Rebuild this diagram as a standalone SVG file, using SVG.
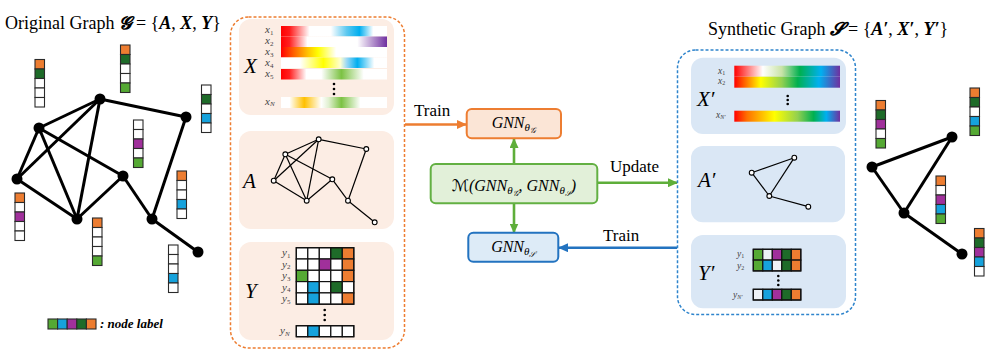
<svg xmlns="http://www.w3.org/2000/svg" width="997" height="360" viewBox="0 0 997 360">
<style>
text{font-family:"Liberation Serif","DejaVu Serif","DejaVu Sans",serif;fill:#000}
.o{fill:#ED7D31}.dg{fill:#1E6B29}.g{fill:#55A934}.b{fill:#16A2DC}.p{fill:#A0309B}.w{fill:#fff}
.bar rect{stroke:#2a2a2a;stroke-width:1.1}
.grid rect{stroke:#111;stroke-width:1.2}
.big{fill:#000}
.edge{stroke:#000;stroke-width:3;fill:none}
.sedge{stroke:#000;stroke-width:1.2;fill:none}
.snode{fill:#fff;stroke:#000;stroke-width:1.1}
.peach{fill:#FCEDE4}
.lblue{fill:#DAE7F5}
.lbl{font-size:11px;font-style:italic;fill:#444}
.lbs{font-size:9.5px;font-style:italic;fill:#444}
.big-l{font-size:21px;font-style:italic}
.dot{fill:#000}
.ttl{font-size:18px}
.arr{font-size:17px}
</style>
<defs>
<marker id="mo" markerWidth="10" markerHeight="9" refX="9" refY="4.5" orient="auto" markerUnits="userSpaceOnUse"><path d="M0,0 L10,4.5 L0,9 z" fill="#ED7D31"/></marker>
<marker id="mg" markerWidth="10" markerHeight="9" refX="9" refY="4.5" orient="auto" markerUnits="userSpaceOnUse"><path d="M0,0 L10,4.5 L0,9 z" fill="#5EAE3A"/></marker>
<marker id="mb" markerWidth="10" markerHeight="9" refX="9" refY="4.5" orient="auto" markerUnits="userSpaceOnUse"><path d="M0,0 L10,4.5 L0,9 z" fill="#2373C0"/></marker>
<linearGradient id="gx1"><stop offset="0" stop-color="#FF0000"/><stop offset="0.08" stop-color="#FF1A1A"/><stop offset="0.27" stop-color="#fff"/><stop offset="0.47" stop-color="#fff"/><stop offset="0.62" stop-color="#5CC8F0"/><stop offset="0.74" stop-color="#00AEEF"/><stop offset="0.87" stop-color="#fff"/><stop offset="1" stop-color="#fff"/></linearGradient>
<linearGradient id="gx2"><stop offset="0" stop-color="#FF0000"/><stop offset="0.08" stop-color="#FF2020"/><stop offset="0.25" stop-color="#fff"/><stop offset="0.72" stop-color="#fff"/><stop offset="1" stop-color="#7030A0"/></linearGradient>
<linearGradient id="gx3"><stop offset="0" stop-color="#FF0000"/><stop offset="0.12" stop-color="#FF6000"/><stop offset="0.25" stop-color="#FFC000"/><stop offset="0.35" stop-color="#FFFF00"/><stop offset="0.52" stop-color="#fff"/><stop offset="1" stop-color="#fff"/></linearGradient>
<linearGradient id="gx4"><stop offset="0" stop-color="#fff"/><stop offset="0.18" stop-color="#fff"/><stop offset="0.4" stop-color="#FFFF00"/><stop offset="0.56" stop-color="#FFFFD0"/><stop offset="0.62" stop-color="#9BD8F5"/><stop offset="0.72" stop-color="#00AEEF"/><stop offset="0.88" stop-color="#fff"/><stop offset="1" stop-color="#fff"/></linearGradient>
<linearGradient id="gx5"><stop offset="0" stop-color="#FF0000"/><stop offset="0.08" stop-color="#FF2020"/><stop offset="0.24" stop-color="#fff"/><stop offset="0.38" stop-color="#fff"/><stop offset="0.57" stop-color="#7CC243"/><stop offset="0.78" stop-color="#fff"/><stop offset="1" stop-color="#fff"/></linearGradient>
<linearGradient id="gx6"><stop offset="0" stop-color="#fff"/><stop offset="0.08" stop-color="#fff"/><stop offset="0.22" stop-color="#FFC000"/><stop offset="0.38" stop-color="#fff"/><stop offset="0.45" stop-color="#E0F0D0"/><stop offset="0.57" stop-color="#7CC243"/><stop offset="0.75" stop-color="#fff"/><stop offset="1" stop-color="#fff"/></linearGradient>
<linearGradient id="gp1"><stop offset="0" stop-color="#FF0000"/><stop offset="0.27" stop-color="#fff"/><stop offset="0.45" stop-color="#C9E3A6"/><stop offset="0.62" stop-color="#00B050"/><stop offset="0.82" stop-color="#00B0F0"/><stop offset="1" stop-color="#7030A0"/></linearGradient>
<linearGradient id="gp2"><stop offset="0" stop-color="#FF0000"/><stop offset="0.25" stop-color="#FFFF00"/><stop offset="0.45" stop-color="#92D050"/><stop offset="0.6" stop-color="#00B050"/><stop offset="0.8" stop-color="#00B0F0"/><stop offset="1" stop-color="#7030A0"/></linearGradient>
<linearGradient id="gp3"><stop offset="0" stop-color="#FF0000"/><stop offset="0.12" stop-color="#FF7000"/><stop offset="0.38" stop-color="#FFFF00"/><stop offset="0.6" stop-color="#92D050"/><stop offset="0.75" stop-color="#00B050"/><stop offset="0.87" stop-color="#00B0F0"/><stop offset="1" stop-color="#7030A0"/></linearGradient>
</defs>

<!-- Titles -->
<text class="ttl" x="5" y="29">Original Graph <tspan font-weight="bold" font-style="italic">𝓖</tspan><tspan dx="4">= {</tspan><tspan font-weight="bold" font-style="italic">A</tspan>, <tspan font-weight="bold" font-style="italic">X</tspan>, <tspan font-weight="bold" font-style="italic">Y</tspan>}</text>
<text class="ttl" x="708" y="35">Synthetic Graph <tspan font-weight="bold" font-style="italic">𝓢</tspan><tspan dx="4">= {</tspan><tspan font-weight="bold" font-style="italic">A′</tspan>, <tspan font-weight="bold" font-style="italic">X′</tspan>, <tspan font-weight="bold" font-style="italic">Y′</tspan>}</text>

<!-- Connectors -->
<g id="connectors">
 <g id="orig-edges" class="edge">
  <line x1="100" y1="99" x2="39" y2="128"/><line x1="100" y1="99" x2="186" y2="117"/>
  <line x1="100" y1="99" x2="17" y2="179"/><line x1="100" y1="99" x2="77" y2="219"/>
  <line x1="39" y1="128" x2="17" y2="179"/><line x1="39" y1="128" x2="77" y2="219"/>
  <line x1="39" y1="128" x2="123" y2="176"/><line x1="17" y1="179" x2="77" y2="219"/>
  <line x1="77" y1="219" x2="123" y2="176"/><line x1="123" y1="176" x2="152" y2="219"/>
  <line x1="186" y1="117" x2="152" y2="219"/><line x1="152" y1="219" x2="198" y2="252"/>
 </g>
 <g id="syn-edges" class="edge">
  <line x1="872" y1="167" x2="952" y2="137"/><line x1="952" y1="137" x2="904" y2="213"/>
  <line x1="872" y1="167" x2="904" y2="213"/><line x1="904" y1="213" x2="962" y2="254"/>
 </g>
 <line id="train-g" x1="405" y1="124.5" x2="466" y2="124.5" stroke="#ED7D31" stroke-width="2.6" marker-end="url(#mo)"/>
 <line id="m-to-g" x1="514" y1="164" x2="514" y2="139" stroke="#5EAE3A" stroke-width="2.6" marker-end="url(#mg)"/>
 <line id="m-to-s" x1="514" y1="203.5" x2="514" y2="232.5" stroke="#5EAE3A" stroke-width="2.6" marker-end="url(#mg)"/>
 <line id="update" x1="597.5" y1="182.7" x2="677" y2="182.7" stroke="#5EAE3A" stroke-width="2.6" marker-end="url(#mg)"/>
 <line id="train-s" x1="677" y1="247.7" x2="559" y2="247.7" stroke="#2373C0" stroke-width="2.6" marker-end="url(#mb)"/>
 <text class="arr" x="414" y="116">Train</text>
 <text class="arr" x="610" y="172">Update</text>
 <text class="arr" x="603" y="241">Train</text>
</g>

<!-- Original graph nodes -->
<g id="orig-nodes" class="big">
 <circle id="n1" cx="100" cy="99" r="5.5"/><circle id="n2" cx="39" cy="128" r="5.5"/>
 <circle id="n3" cx="186" cy="117" r="5.5"/><circle id="n4" cx="17" cy="179" r="5.5"/>
 <circle id="n5" cx="123" cy="176" r="5.5"/><circle id="n6" cx="77" cy="219" r="5.5"/>
 <circle id="n7" cx="152" cy="219" r="5.5"/><circle id="n8" cx="198" cy="252" r="5.5"/>
</g>
<g id="orig-labels">
 <g class="bar" transform="translate(35,59.5)"><rect class="o" y="0" width="9.5" height="9.5"/><rect class="dg" y="9.5" width="9.5" height="9.5"/><rect class="w" y="19" width="9.5" height="9.5"/><rect class="w" y="28.5" width="9.5" height="9.5"/><rect class="w" y="38" width="9.5" height="9.5"/></g>
 <g class="bar" transform="translate(120.5,45)"><rect class="o" y="0" width="9.5" height="9.5"/><rect class="dg" y="9.5" width="9.5" height="9.5"/><rect class="w" y="19" width="9.5" height="9.5"/><rect class="w" y="28.5" width="9.5" height="9.5"/><rect class="g" y="38" width="9.5" height="9.5"/></g>
 <g class="bar" transform="translate(201.5,85)"><rect class="w" y="0" width="9.5" height="9.5"/><rect class="dg" y="9.5" width="9.5" height="9.5"/><rect class="w" y="19" width="9.5" height="9.5"/><rect class="b" y="28.5" width="9.5" height="9.5"/><rect class="w" y="38" width="9.5" height="9.5"/></g>
 <g class="bar" transform="translate(133.5,120)"><rect class="w" y="0" width="9.5" height="9.5"/><rect class="w" y="9.5" width="9.5" height="9.5"/><rect class="p" y="19" width="9.5" height="9.5"/><rect class="w" y="28.5" width="9.5" height="9.5"/><rect class="g" y="38" width="9.5" height="9.5"/></g>
 <g class="bar" transform="translate(177,171)"><rect class="o" y="0" width="9.5" height="9.5"/><rect class="w" y="9.5" width="9.5" height="9.5"/><rect class="w" y="19" width="9.5" height="9.5"/><rect class="b" y="28.5" width="9.5" height="9.5"/><rect class="w" y="38" width="9.5" height="9.5"/></g>
 <g class="bar" transform="translate(15,193)"><rect class="o" y="0" width="9.5" height="9.5"/><rect class="w" y="9.5" width="9.5" height="9.5"/><rect class="p" y="19" width="9.5" height="9.5"/><rect class="w" y="28.5" width="9.5" height="9.5"/><rect class="w" y="38" width="9.5" height="9.5"/></g>
 <g class="bar" transform="translate(92.5,218)"><rect class="o" y="0" width="9.5" height="9.5"/><rect class="w" y="9.5" width="9.5" height="9.5"/><rect class="w" y="19" width="9.5" height="9.5"/><rect class="w" y="28.5" width="9.5" height="9.5"/><rect class="g" y="38" width="9.5" height="9.5"/></g>
 <g class="bar" transform="translate(168.5,245)"><rect class="w" y="0" width="9.5" height="9.5"/><rect class="w" y="9.5" width="9.5" height="9.5"/><rect class="w" y="19" width="9.5" height="9.5"/><rect class="b" y="28.5" width="9.5" height="9.5"/><rect class="w" y="38" width="9.5" height="9.5"/></g>
</g>
<g id="legend">
 <g class="bar"><rect class="g" x="48" y="319" width="9.6" height="10"/><rect class="b" x="57.6" y="319" width="9.6" height="10"/><rect class="p" x="67.2" y="319" width="9.6" height="10"/><rect class="dg" x="76.8" y="319" width="9.6" height="10"/><rect class="o" x="86.4" y="319" width="9.6" height="10"/></g>
 <text x="100" y="328" font-size="13" font-weight="bold" font-style="italic">: node label</text>
</g>

<!-- Original graph data panel -->
<g id="orig-panel">
 <rect x="230.5" y="17" width="174" height="331" rx="18" fill="none" stroke="#ED7D31" stroke-width="1.5" stroke-dasharray="3 2"/>
 <g id="panel-X">
  <rect class="peach" x="239" y="19" width="155" height="96" rx="12"/>
  <text class="big-l" x="244" y="73">X</text>
  <text class="lbl" x="265" y="33">x<tspan font-size="7" font-style="normal" dy="1.5">1</tspan></text>
  <text class="lbl" x="265" y="44">x<tspan font-size="7" font-style="normal" dy="1.5">2</tspan></text>
  <text class="lbl" x="265" y="55">x<tspan font-size="7" font-style="normal" dy="1.5">3</tspan></text>
  <text class="lbl" x="265" y="66">x<tspan font-size="7" font-style="normal" dy="1.5">4</tspan></text>
  <text class="lbl" x="265" y="77">x<tspan font-size="7" font-style="normal" dy="1.5">5</tspan></text>
  <text class="lbl" x="265" y="104.5">x<tspan font-size="7" dy="1.5">N</tspan></text>
  <rect x="281" y="26" width="106" height="10.5" fill="url(#gx1)"/>
  <rect x="281" y="36.5" width="106" height="10.5" fill="url(#gx2)"/>
  <rect x="281" y="47" width="106" height="10.5" fill="url(#gx3)"/>
  <rect x="281" y="57.5" width="106" height="10.5" fill="url(#gx4)"/>
  <rect x="281" y="69" width="106" height="10.5" fill="url(#gx5)"/>
  <rect x="281" y="97" width="106" height="11" fill="url(#gx6)"/>
  <circle class="dot" cx="334" cy="84" r="1.3"/><circle class="dot" cx="334" cy="89" r="1.3"/><circle class="dot" cx="334" cy="94" r="1.3"/>
 </g>
 <g id="panel-A">
  <rect class="peach" x="239" y="131" width="155" height="98" rx="12"/>
  <text class="big-l" x="243" y="188">A</text>
  <g class="sedge">
   <line x1="318.7" y1="139.3" x2="285.3" y2="154.3"/><line x1="318.7" y1="139.3" x2="366.3" y2="149"/>
   <line x1="318.7" y1="139.3" x2="273.7" y2="180.7"/><line x1="318.7" y1="139.3" x2="306.7" y2="200.7"/>
   <line x1="285.3" y1="154.3" x2="273.7" y2="180.7"/><line x1="285.3" y1="154.3" x2="306.7" y2="200.7"/>
   <line x1="285.3" y1="154.3" x2="332.3" y2="179.3"/><line x1="273.7" y1="180.7" x2="306.7" y2="200.7"/>
   <line x1="306.7" y1="200.7" x2="332.3" y2="179.3"/><line x1="332.3" y1="179.3" x2="348" y2="200.7"/>
   <line x1="366.3" y1="149" x2="348" y2="200.7"/><line x1="348" y1="200.7" x2="374.7" y2="222.3"/>
  </g>
  <g class="snode">
   <circle cx="318.7" cy="139.3" r="2.4"/><circle cx="285.3" cy="154.3" r="2.4"/><circle cx="366.3" cy="149" r="2.4"/>
   <circle cx="273.7" cy="180.7" r="2.4"/><circle cx="332.3" cy="179.3" r="2.4"/><circle cx="306.7" cy="200.7" r="2.4"/>
   <circle cx="348" cy="200.7" r="2.4"/><circle cx="374.7" cy="222.3" r="2.4"/>
  </g>
 </g>
 <g id="panel-Y">
  <rect class="peach" x="239" y="242" width="155" height="98" rx="12"/>
  <text class="big-l" x="245" y="298">Y</text>
  <text class="lbl" x="282" y="256">y<tspan font-size="7" font-style="normal" dy="1.5">1</tspan></text>
  <text class="lbl" x="282" y="267.5">y<tspan font-size="7" font-style="normal" dy="1.5">2</tspan></text>
  <text class="lbl" x="282" y="279">y<tspan font-size="7" font-style="normal" dy="1.5">3</tspan></text>
  <text class="lbl" x="282" y="290.5">y<tspan font-size="7" font-style="normal" dy="1.5">4</tspan></text>
  <text class="lbl" x="282" y="302">y<tspan font-size="7" font-style="normal" dy="1.5">5</tspan></text>
  <text class="lbl" x="280" y="334">y<tspan font-size="7" dy="1.5">N</tspan></text>
  <g class="grid">
   <rect class="w" x="296.3" y="247.7" width="11.5" height="11.3"/><rect class="w" x="307.8" y="247.7" width="11.5" height="11.3"/><rect class="w" x="319.3" y="247.7" width="11.5" height="11.3"/><rect class="dg" x="330.8" y="247.7" width="11.5" height="11.3"/><rect class="o" x="342.3" y="247.7" width="11.5" height="11.3"/>
   <rect class="w" x="296.3" y="259" width="11.5" height="11.3"/><rect class="w" x="307.8" y="259" width="11.5" height="11.3"/><rect class="p" x="319.3" y="259" width="11.5" height="11.3"/><rect class="w" x="330.8" y="259" width="11.5" height="11.3"/><rect class="o" x="342.3" y="259" width="11.5" height="11.3"/>
   <rect class="g" x="296.3" y="270.3" width="11.5" height="11.3"/><rect class="w" x="307.8" y="270.3" width="11.5" height="11.3"/><rect class="w" x="319.3" y="270.3" width="11.5" height="11.3"/><rect class="w" x="330.8" y="270.3" width="11.5" height="11.3"/><rect class="o" x="342.3" y="270.3" width="11.5" height="11.3"/>
   <rect class="w" x="296.3" y="281.6" width="11.5" height="11.3"/><rect class="b" x="307.8" y="281.6" width="11.5" height="11.3"/><rect class="w" x="319.3" y="281.6" width="11.5" height="11.3"/><rect class="dg" x="330.8" y="281.6" width="11.5" height="11.3"/><rect class="w" x="342.3" y="281.6" width="11.5" height="11.3"/>
   <rect class="w" x="296.3" y="292.9" width="11.5" height="11.3"/><rect class="b" x="307.8" y="292.9" width="11.5" height="11.3"/><rect class="w" x="319.3" y="292.9" width="11.5" height="11.3"/><rect class="w" x="330.8" y="292.9" width="11.5" height="11.3"/><rect class="o" x="342.3" y="292.9" width="11.5" height="11.3"/>
   <rect x="296.3" y="247.7" width="57.5" height="56.5" fill="none" stroke-width="2"/>
   <rect class="w" x="296.3" y="325.7" width="11.5" height="11"/><rect class="b" x="307.8" y="325.7" width="11.5" height="11"/><rect class="w" x="319.3" y="325.7" width="11.5" height="11"/><rect class="w" x="330.8" y="325.7" width="11.5" height="11"/><rect class="w" x="342.3" y="325.7" width="11.5" height="11"/>
   <rect x="296.3" y="325.7" width="57.5" height="11" fill="none" stroke-width="2"/>
  </g>
  <circle class="dot" cx="324.7" cy="310" r="1.3"/><circle class="dot" cx="324.7" cy="315" r="1.3"/><circle class="dot" cx="324.7" cy="320" r="1.3"/>
 </g>
</g>

<!-- Middle boxes -->
<g id="gnn-g">
 <rect x="466.7" y="109" width="94.3" height="29.3" rx="5" fill="#FBE5D6" stroke="#ED7D31" stroke-width="2"/>
 <text x="513.8" y="128" text-anchor="middle" font-size="16" font-style="italic">GNN<tspan font-size="11" dy="3">θ</tspan><tspan font-size="8" dy="2">𝒢</tspan></text>
</g>
<g id="matching">
 <rect x="430.7" y="164" width="166.6" height="39.3" rx="5" fill="#E2F0D9" stroke="#63B043" stroke-width="2"/>
 <text x="514" y="191" text-anchor="middle" font-size="16" font-style="italic">ℳ(GNN<tspan font-size="11" dy="3">θ</tspan><tspan font-size="8" dy="2">𝒢</tspan><tspan dy="-5">, GNN</tspan><tspan font-size="11" dy="3">θ</tspan><tspan font-size="8" dy="2">𝒮</tspan><tspan dy="-5">)</tspan></text>
</g>
<g id="gnn-s">
 <rect x="468.3" y="232.7" width="90" height="29" rx="5" fill="#DDEBF7" stroke="#2373C0" stroke-width="2"/>
 <text x="513.3" y="251.5" text-anchor="middle" font-size="16" font-style="italic">GNN<tspan font-size="11" dy="3">θ</tspan><tspan font-size="8" dy="2">𝒮</tspan></text>
</g>

<!-- Synthetic graph panel -->
<g id="syn-panel">
 <rect x="677.5" y="50" width="178" height="264.5" rx="18" fill="none" stroke="#2E84CC" stroke-width="1.5" stroke-dasharray="3 2"/>
 <g id="panel-Xp">
  <rect class="lblue" x="691" y="57.7" width="155" height="76.3" rx="12"/>
  <text class="big-l" x="697" y="106">X′</text>
  <text class="lbs" x="718" y="73.5">x<tspan font-size="6" font-style="normal" dy="1">1</tspan></text>
  <text class="lbs" x="718" y="84">x<tspan font-size="6" font-style="normal" dy="1">2</tspan></text>
  <text class="lbs" x="716" y="118">x<tspan font-size="6" dy="1">N′</tspan></text>
  <rect x="734.3" y="65.7" width="105.7" height="11" fill="url(#gp1)"/>
  <rect x="734.3" y="76.7" width="105.7" height="11" fill="url(#gp2)"/>
  <rect x="734.3" y="110.7" width="105.7" height="11" fill="url(#gp3)"/>
  <circle class="dot" cx="787.7" cy="96" r="1.3"/><circle class="dot" cx="787.7" cy="100" r="1.3"/><circle class="dot" cx="787.7" cy="104" r="1.3"/>
 </g>
 <g id="panel-Ap">
  <rect class="lblue" x="691" y="146" width="154" height="76.3" rx="12"/>
  <text class="big-l" x="698" y="187">A′</text>
  <g class="sedge">
   <line x1="751.7" y1="172.7" x2="794.3" y2="157.7"/><line x1="794.3" y1="157.7" x2="769.3" y2="196"/>
   <line x1="751.7" y1="172.7" x2="769.3" y2="196"/><line x1="769.3" y1="196" x2="808.3" y2="206.7"/>
  </g>
  <g class="snode">
   <circle cx="751.7" cy="172.7" r="2.4"/><circle cx="794.3" cy="157.7" r="2.4"/><circle cx="769.3" cy="196" r="2.4"/><circle cx="808.3" cy="206.7" r="2.4"/>
  </g>
 </g>
 <g id="panel-Yp">
  <rect class="lblue" x="691" y="235" width="155" height="73.3" rx="12"/>
  <text class="big-l" x="698" y="280">Y′</text>
  <text class="lbs" x="737" y="257">y<tspan font-size="6" font-style="normal" dy="1">1</tspan></text>
  <text class="lbs" x="737" y="268.5">y<tspan font-size="6" font-style="normal" dy="1">2</tspan></text>
  <text class="lbs" x="733" y="298">y<tspan font-size="6" dy="1">N′</tspan></text>
  <g class="grid">
   <rect class="g" x="753.3" y="249.3" width="9.5" height="10.8"/><rect fill="#EEF2F6" x="762.8" y="249.3" width="9.5" height="10.8"/><rect class="p" x="772.3" y="249.3" width="9.5" height="10.8"/><rect class="dg" x="781.8" y="249.3" width="9.5" height="10.8"/><rect class="o" x="791.3" y="249.3" width="9.5" height="10.8"/>
   <rect class="g" x="753.3" y="260.1" width="9.5" height="10.8"/><rect class="b" x="762.8" y="260.1" width="9.5" height="10.8"/><rect fill="#EEF2F6" x="772.3" y="260.1" width="9.5" height="10.8"/><rect class="dg" x="781.8" y="260.1" width="9.5" height="10.8"/><rect class="o" x="791.3" y="260.1" width="9.5" height="10.8"/>
   <rect x="753.3" y="249.3" width="47.5" height="21.6" fill="none" stroke-width="2"/>
   <rect fill="#EEF2F6" x="753.3" y="289.3" width="9.5" height="10.7"/><rect class="b" x="762.8" y="289.3" width="9.5" height="10.7"/><rect class="p" x="772.3" y="289.3" width="9.5" height="10.7"/><rect class="dg" x="781.8" y="289.3" width="9.5" height="10.7"/><rect class="o" x="791.3" y="289.3" width="9.5" height="10.7"/>
   <rect x="753.3" y="289.3" width="47.5" height="10.7" fill="none" stroke-width="2"/>
  </g>
  <circle class="dot" cx="778.3" cy="276" r="1.3"/><circle class="dot" cx="778.3" cy="280.5" r="1.3"/><circle class="dot" cx="778.3" cy="285" r="1.3"/>
 </g>
</g>

<!-- Synthetic graph nodes -->
<g id="syn-nodes" class="big">
 <circle id="r1" cx="872" cy="167" r="5.5"/><circle id="r2" cx="952" cy="137" r="5.5"/>
 <circle id="r3" cx="904" cy="213" r="5.5"/><circle id="r4" cx="962" cy="254" r="5.5"/>
</g>
<g id="syn-labels">
 <g class="bar" transform="translate(876,100.5)"><rect class="o" y="0" width="9.5" height="9.5"/><rect class="dg" y="9.5" width="9.5" height="9.5"/><rect class="p" y="19" width="9.5" height="9.5"/><rect class="w" y="28.5" width="9.5" height="9.5"/><rect class="g" y="38" width="9.5" height="9.5"/></g>
 <g class="bar" transform="translate(970,88)"><rect class="o" y="0" width="9.5" height="9.5"/><rect class="dg" y="9.5" width="9.5" height="9.5"/><rect class="w" y="19" width="9.5" height="9.5"/><rect class="b" y="28.5" width="9.5" height="9.5"/><rect class="g" y="38" width="9.5" height="9.5"/></g>
 <g class="bar" transform="translate(936,176)"><rect class="o" y="0" width="9.5" height="9.5"/><rect class="w" y="9.5" width="9.5" height="9.5"/><rect class="p" y="19" width="9.5" height="9.5"/><rect class="b" y="28.5" width="9.5" height="9.5"/><rect class="g" y="38" width="9.5" height="9.5"/></g>
 <g class="bar" transform="translate(974.5,228.5)"><rect class="o" y="0" width="9.5" height="9.5"/><rect class="dg" y="9.5" width="9.5" height="9.5"/><rect class="p" y="19" width="9.5" height="9.5"/><rect class="b" y="28.5" width="9.5" height="9.5"/><rect class="w" y="38" width="9.5" height="9.5"/></g>
</g>
</svg>
